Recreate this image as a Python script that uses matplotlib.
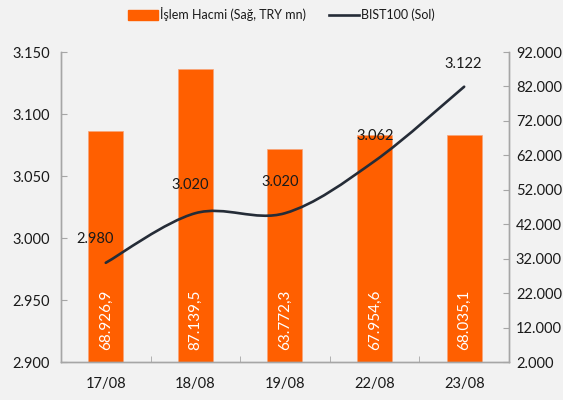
import numpy as np
import matplotlib
matplotlib.use("Agg")
import matplotlib.pyplot as plt
from matplotlib.path import Path
from matplotlib.patches import PathPatch
from matplotlib.lines import Line2D
from matplotlib.ticker import FuncFormatter

# Chart data.
dates = ["17/08", "18/08", "19/08", "22/08", "23/08"]
volume = [68926.9, 87139.5, 63772.3, 67954.6, 68035.1]  # İşlem Hacmi (TRY mn), right axis
bist = [2980, 3020, 3020, 3062, 3122]  # BIST100, left axis

BAR_COLOR = "#FF5F00"
LINE_COLOR = "#252C37"
BG = "#F2F2F2"
SPINE = "#A6A6A6"
TEXT = "#1A1A1A"

plt.rcParams["font.family"] = ["Lato", "DejaVu Sans"]


def tr_int(v):
    # Turkish thousands separator.
    return f"{v:,.0f}".replace(",", ".")


def tr_dec(v):
    s = f"{v:,.1f}"
    return s.replace(",", "X").replace(".", ",").replace("X", ".")


def smooth_path(xs, ys):
    # Excel-like smoothed line: cubic Bezier through every point.
    pts = np.column_stack([xs, ys]).astype(float)
    n = len(pts)
    verts = [pts[0]]
    codes = [Path.MOVETO]
    for i in range(n - 1):
        p0 = pts[i - 1] if i > 0 else pts[i]
        p1 = pts[i]
        p2 = pts[i + 1]
        p3 = pts[i + 2] if i + 2 < n else pts[i + 1]
        c1 = p1 + (p2 - p0) / 6.0
        c2 = p2 - (p3 - p1) / 6.0
        verts += [c1, c2, p2]
        codes += [Path.CURVE4] * 3
    return Path(verts, codes)


fig = plt.figure(figsize=(5.63, 4.0), dpi=100, facecolor=BG)
axL = fig.add_axes([0.1083, 0.095, 0.7957, 0.775])
axL.set_facecolor(BG)
axR = axL.twinx()

x = np.arange(len(dates))

# Bars on the right axis.
axR.bar(x, volume, width=0.39, color=BAR_COLOR, edgecolor="#F7A47A", linewidth=0.5, zorder=1)
axR.set_ylim(2000, 92000)
axR.set_yticks(np.arange(2000, 92001, 10000))
axR.yaxis.set_major_formatter(FuncFormatter(lambda v, p: tr_int(v)))
for xi, v in zip(x, volume):
    axR.annotate(tr_dec(v), (xi, 2000), xytext=(0, 12), textcoords="offset pixels",
                 rotation=90, ha="center", va="bottom", color="white", fontsize=11)

# Smoothed BIST100 line on the left axis, drawn above the bars.
axL.set_zorder(axR.get_zorder() + 1)
axL.patch.set_visible(False)
axR.patch.set_facecolor(BG)
axL.set_xlim(-0.5, len(dates) - 0.5)
axL.set_ylim(2900, 3150)
axL.set_yticks(np.arange(2900, 3151, 50))
axL.yaxis.set_major_formatter(FuncFormatter(lambda v, p: tr_int(v)))
axL.add_patch(PathPatch(smooth_path(x, bist), facecolor="none", edgecolor=LINE_COLOR,
                        linewidth=1.9, capstyle="round"))

label_offsets = [(-11, 24), (-5, 28), (-5, 31), (1, 25), (-1, 23)]
for xi, v, off in zip(x, bist, label_offsets):
    axL.annotate(tr_int(v), (xi, v), xytext=off, textcoords="offset pixels",
                 ha="center", va="center", color=TEXT, fontsize=10.5)

axL.set_xticks(x)
axL.set_xticklabels(dates)
axL.set_xticks(np.arange(-0.5, len(dates)), minor=True)

for ax in (axL, axR):
    ax.spines["top"].set_visible(False)
    for side in ("left", "right", "bottom"):
        ax.spines[side].set_color(SPINE)
        ax.spines[side].set_linewidth(1.0)
    ax.tick_params(axis="both", which="both", direction="in", color=SPINE,
                   labelcolor=TEXT, labelsize=10.5, length=4)
axL.tick_params(axis="x", which="major", length=0, pad=11)
axL.tick_params(axis="y", pad=8)
axR.tick_params(axis="y", pad=5)

handles = [plt.Rectangle((0, 0), 1, 1, color=BAR_COLOR),
           Line2D([0], [0], color=LINE_COLOR, linewidth=1.9)]
fig.legend(handles, ["İşlem Hacmi (Sağ, TRY mn)", "BIST100 (Sol)"], loc="upper center",
           bbox_to_anchor=(0.5, 1.01), ncol=2, frameon=False, fontsize=9,
           handlelength=2.4, handleheight=0.9, handletextpad=0.2, columnspacing=1.8,
           labelcolor=TEXT)

fig.savefig("out.png", dpi=100, facecolor=BG)
